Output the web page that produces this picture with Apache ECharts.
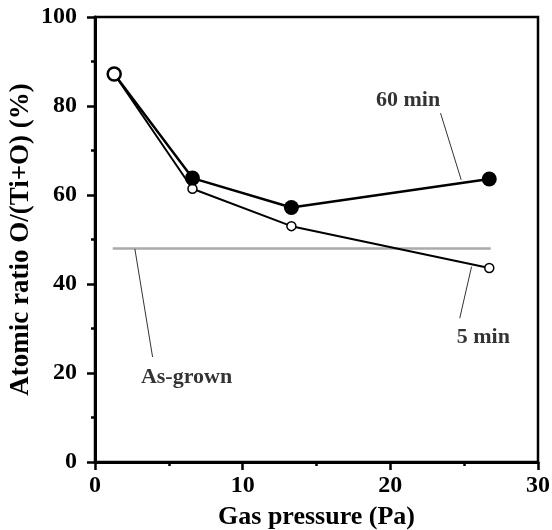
<!DOCTYPE html>
<html>
<head>
<meta charset="utf-8">
<script src="https://cdn.jsdelivr.net/npm/echarts@6/dist/echarts.min.js"></script>
<style>
  html, body { margin: 0; padding: 0; background: #fff; }
  #main { width: 552px; height: 530px; }
</style>
</head>
<body>
<div id="main"></div>
<script>
// pressure (Pa) and O/(Ti+O) ratio (%)
var pressure = [1.3, 6.6, 13.3, 26.7];
var ratio60 = [87.2, 63.8, 57.2, 63.6];
var ratio5 = [87.2, 61.4, 53.0, 43.6];
var asGrown = [[1.2, 48], [26.8, 48]];

// annotation leaders, in data coords
var leader60 = [[23.4, 78.4], [24.8, 63.4]];
var leader5 = [[25.5, 43.9], [24.7, 32.3]];
var leaderAs = [[2.7, 47.9], [3.9, 23.6]];
var labels = [
  { name: '60 min', value: [21.2, 81.2] },
  { name: '5 min', value: [26.3, 28.0] },
  { name: 'As-grown', value: [6.2, 19.1] }
];

var font = '"Liberation Serif", "Times New Roman", serif';

function pairs(xs, ys) {
  return xs.map(function (x, i) { return [x, ys[i]]; });
}

var data60 = pairs(pressure, ratio60);
data60[0] = { value: data60[0], symbolSize: 13,
  itemStyle: { color: '#fff', borderColor: '#000', borderWidth: 2.5 } };

function leader(d) {
  return {
    type: 'line', data: d, symbol: 'none', silent: true, z: 1,
    lineStyle: { color: '#333', width: 1 }
  };
}

var chart = echarts.init(document.getElementById('main'));
chart.setOption({
  animation: false,
  grid: {
    left: 95, right: 14, top: 17, bottom: 68,
    outerBoundsMode: 'none', containLabel: false,
    show: true, borderColor: '#000', borderWidth: 2.5, backgroundColor: 'transparent'
  },
  xAxis: {
    type: 'value', min: 0, max: 30, interval: 10,
    name: 'Gas pressure (Pa)', nameLocation: 'middle', nameGap: 42,
    nameTextStyle: { fontFamily: font, fontWeight: 'bold', fontSize: 26, color: '#000' },
    axisLine: { lineStyle: { color: '#000', width: 3 } },
    axisTick: { length: 8, lineStyle: { color: '#000', width: 2.5 } },
    minorTick: { show: true, splitNumber: 2, length: 4, lineStyle: { color: '#000', width: 2.5 } },
    splitLine: { show: false },
    axisLabel: { margin: 12, fontFamily: font, fontWeight: 'bold', fontSize: 24, color: '#000' }
  },
  yAxis: {
    type: 'value', min: 0, max: 100, interval: 20,
    name: 'Atomic ratio O/(Ti+O) (%)', nameLocation: 'middle', nameGap: 60,
    nameMoveOverlap: false,
    nameTextStyle: { fontFamily: font, fontWeight: 'bold', fontSize: 27, color: '#000' },
    axisLine: { lineStyle: { color: '#000', width: 3 } },
    axisTick: { length: 8, lineStyle: { color: '#000', width: 2.5 } },
    minorTick: { show: true, splitNumber: 2, length: 4, lineStyle: { color: '#000', width: 2.5 } },
    splitLine: { show: false },
    axisLabel: { margin: 18, fontFamily: font, fontWeight: 'bold', fontSize: 24, color: '#000' }
  },
  series: [
    {
      name: 'As-grown', type: 'line', data: asGrown, symbol: 'none', z: 1,
      lineStyle: { color: '#aaa', width: 2.5 }
    },
    leader(leader60),
    leader(leader5),
    leader(leaderAs),
    {
      name: '5 min', type: 'line', data: pairs(pressure, ratio5),
      symbol: 'circle', symbolSize: 9, z: 3,
      lineStyle: { color: '#000', width: 2 },
      itemStyle: { color: '#fff', borderColor: '#000', borderWidth: 1.5 }
    },
    {
      name: '60 min', type: 'line', data: data60,
      symbol: 'circle', symbolSize: 15, z: 4,
      lineStyle: { color: '#000', width: 2.5 },
      itemStyle: { color: '#000', borderColor: '#000', borderWidth: 0 }
    },
    {
      type: 'scatter', data: labels, symbolSize: 0, silent: true,
      label: {
        show: true, position: 'inside', formatter: '{b}',
        fontFamily: font, fontWeight: 'bold', fontSize: 22, color: '#000'
      }
    }
  ]
});
</script>
</body>
</html>
